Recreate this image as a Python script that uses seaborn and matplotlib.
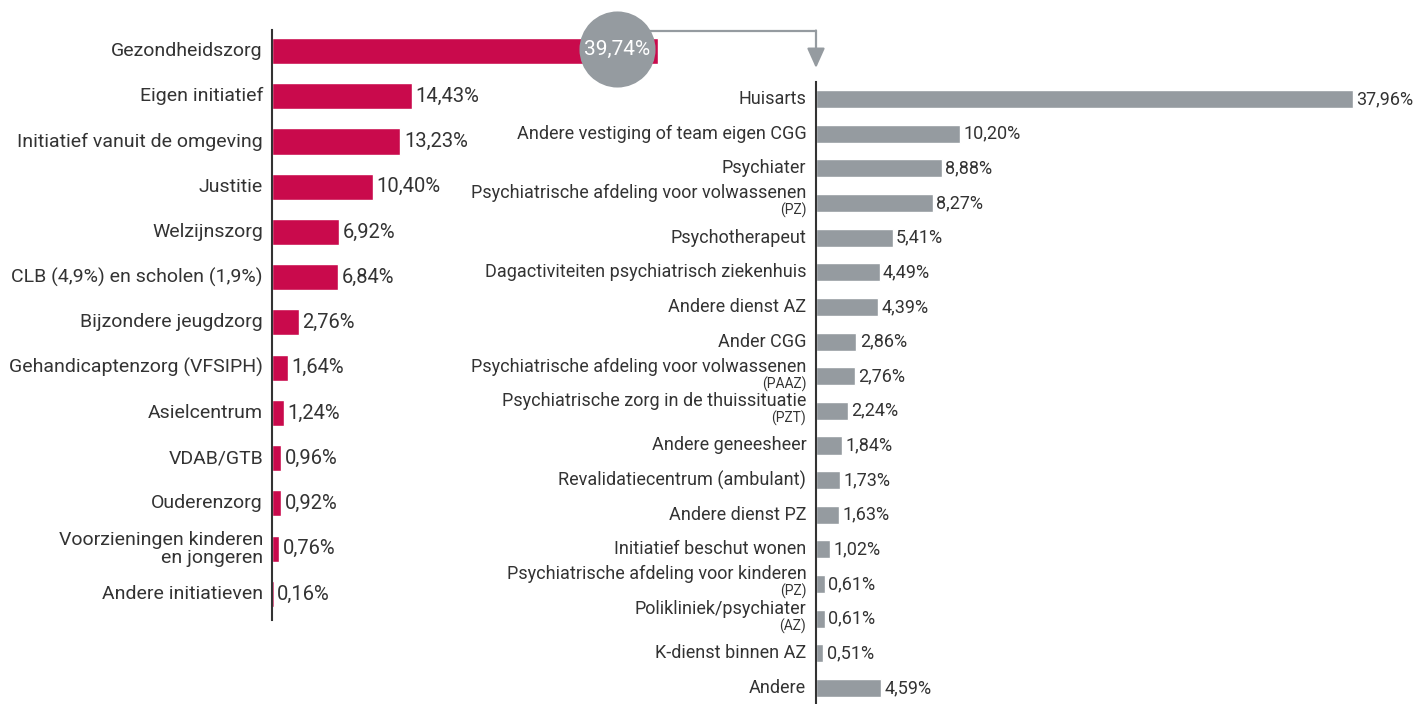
import seaborn as sns
import matplotlib.pyplot as plt
from matplotlib.lines import Line2D
import numpy as np
import pandas as pd

# left panel: where the referrals come from
left_labels = ['Gezondheidszorg', 'Eigen initiatief', 'Initiatief vanuit de omgeving',
               'Justitie', 'Welzijnszorg', 'CLB (4,9%) en scholen (1,9%)',
               'Bijzondere jeugdzorg', 'Gehandicaptenzorg (VFSIPH)', 'Asielcentrum',
               'VDAB/GTB', 'Ouderenzorg', 'Voorzieningen kinderen\nen jongeren',
               'Andere initiatieven']
left_values = [39.74, 14.43, 13.23, 10.40, 6.92, 6.84, 2.76, 1.64, 1.24, 0.96, 0.92, 0.76, 0.16]

# right panel: breakdown of Gezondheidszorg
right_labels = ['Huisarts', 'Andere vestiging of team eigen CGG', 'Psychiater',
                'Psychiatrische afdeling voor volwassenen', 'Psychotherapeut',
                'Dagactiviteiten psychiatrisch ziekenhuis', 'Andere dienst AZ', 'Ander CGG',
                'Psychiatrische afdeling voor volwassenen', 'Psychiatrische zorg in de thuissituatie',
                'Andere geneesheer', 'Revalidatiecentrum (ambulant)', 'Andere dienst PZ',
                'Initiatief beschut wonen', 'Psychiatrische afdeling voor kinderen',
                'Polikliniek/psychiater', 'K-dienst binnen AZ', 'Andere']
right_sub = ['', '', '', '(PZ)', '', '', '', '', '(PAAZ)', '(PZT)', '', '', '', '',
             '(PZ)', '(AZ)', '', '']
right_values = [37.96, 10.20, 8.88, 8.27, 5.41, 4.49, 4.39, 2.86, 2.76, 2.24,
                1.84, 1.73, 1.63, 1.02, 0.61, 0.61, 0.51, 4.59]

red = '#C90A4C'
grey = '#959BA0'
txt = '#333333'

sns.set_theme(style='white')
plt.rcParams['font.family'] = ['Roboto', 'DejaVu Sans']
fs_l = 14
fs_lv = 14.5
fs_r = 13

W, H = 1416, 704
fig = plt.figure(figsize=(W / 100, H / 100), dpi=100)

def px(x0, y0, x1, y1):
    return [x0 / W, 1 - y1 / H, (x1 - x0) / W, (y1 - y0) / H]

def pct(v):
    return f'{v:.2f}%'.replace('.', ',')

# ---- left
axl = fig.add_axes(px(272, 30, 272 + 45 * 9.71, 620))
dl = pd.DataFrame({'cat': [str(i) for i in range(len(left_labels))], 'val': left_values})
sns.barplot(data=dl, x='val', y='cat', color=red, width=0.575, saturation=1, ax=axl)
axl.set_xlim(0, 45)
axl.set_ylim(12.575, -0.464)

for i, (lab, v) in enumerate(zip(left_labels, left_values)):
    axl.annotate(lab, xy=(0, i), xycoords=axl.get_yaxis_transform(), xytext=(-6.5, 0),
                 textcoords='offset points', ha='right', va='center', fontsize=fs_l,
                 color=txt, linespacing=1.0)
    if i > 0:
        axl.annotate(pct(v), xy=(v, i), xytext=(2.5, 0),
                     textcoords='offset points', ha='left', va='center', fontsize=fs_lv, color=txt)

# bubble on the first bar
cx = left_values[0] - 4.25
axl.scatter([cx], [-0.04], s=3000, color=grey, zorder=5, clip_on=False, linewidths=0)
axl.text(cx, -0.04, pct(left_values[0]), ha='center', va='center',
         color='white', fontsize=15, zorder=6)

# ---- right
axr = fig.add_axes(px(816, 82, 816 + 42 * 14.15, 704))
dr = pd.DataFrame({'cat': [str(i) for i in range(len(right_labels))], 'val': right_values})
sns.barplot(data=dr, x='val', y='cat', color=grey, width=0.52, saturation=1, ax=axr)
axr.set_xlim(0, 42)
axr.set_ylim(17.46, -0.49)

for i, (lab, sub, v) in enumerate(zip(right_labels, right_sub, right_values)):
    dy = 7 if sub else 0
    axr.annotate(lab, xy=(0, i), xycoords=axr.get_yaxis_transform(), xytext=(-7, dy),
                 textcoords='offset points', ha='right', va='center', fontsize=fs_r, color=txt)
    if sub:
        axr.annotate(sub, xy=(0, i), xycoords=axr.get_yaxis_transform(), xytext=(-7, -5.5),
                     textcoords='offset points', ha='right', va='center', fontsize=10, color=txt)
    axr.annotate(pct(v), xy=(v, i), xytext=(2.5, 0),
                 textcoords='offset points', ha='left', va='center', fontsize=fs_r, color=txt)

for ax in (axl, axr):
    ax.set_xlabel('')
    ax.set_ylabel('')
    ax.set_xticks([])
    ax.set_yticks([])
    for s in ('top', 'right', 'bottom'):
        ax.spines[s].set_visible(False)
    ax.spines['left'].set_color(txt)
    ax.spines['left'].set_linewidth(1.5)
    ax.patch.set_alpha(0)

# connector from the bubble down to the right panel
fig.add_artist(Line2D([648 / W, 816 / W], [1 - 31 / H, 1 - 31 / H], color=grey, lw=1.6))
fig.add_artist(plt.Annotation('', xy=(816 / W, 1 - 68 / H), xytext=(816 / W, 1 - 30.5 / H),
                              xycoords='figure fraction',
                              arrowprops=dict(arrowstyle='-|>,head_length=1.0,head_width=0.45',
                                              color=grey, lw=1.6, shrinkA=0, shrinkB=0)))

fig.savefig('out.png', dpi=100)
